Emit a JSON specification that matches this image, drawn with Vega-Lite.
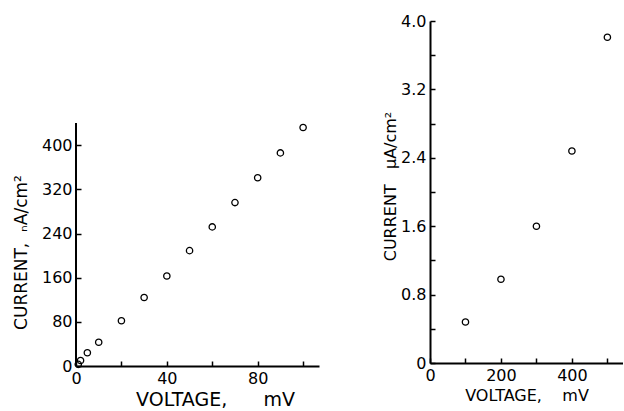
{
  "$schema": "https://vega.github.io/schema/vega-lite/v6.json",
  "background": "white",
  "padding": {"left": 12, "top": 13, "right": 0, "bottom": 0},
  "spacing": 63,
  "config": {
    "view": {"stroke": null},
    "font": "DejaVu Sans",
    "axis": {
      "grid": false,
      "domainColor": "black",
      "domainWidth": 2,
      "tickColor": "black",
      "tickWidth": 1.5,
      "tickSize": -5,
      "labelPadding": 9,
      "labelFlush": false,
      "labelOverlap": false,
      "labelColor": "black",
      "labelFontSize": 16,
      "labelFont": "DejaVu Sans",
      "titleFont": "DejaVu Sans",
      "titleFontSize": 16,
      "titleFontWeight": "normal",
      "titleColor": "black"
    }
  },
  "datasets": {
    "left": [
      {"voltage": 1, "current": 3},
      {"voltage": 2, "current": 10},
      {"voltage": 5, "current": 24},
      {"voltage": 10, "current": 43},
      {"voltage": 20, "current": 82},
      {"voltage": 30, "current": 124},
      {"voltage": 40, "current": 163},
      {"voltage": 50, "current": 209},
      {"voltage": 60, "current": 252},
      {"voltage": 70, "current": 296},
      {"voltage": 80, "current": 341},
      {"voltage": 90, "current": 386},
      {"voltage": 100, "current": 432}
    ],
    "right": [
      {"voltage": 100, "current": 0.48},
      {"voltage": 200, "current": 0.98},
      {"voltage": 300, "current": 1.6},
      {"voltage": 400, "current": 2.48},
      {"voltage": 500, "current": 3.81}
    ]
  },
  "hconcat": [
    {
      "width": 243,
      "height": 345,
      "layer": [
        {
          "data": {"name": "left"},
          "mark": {"type": "rule", "color": "black", "strokeWidth": 2},
          "encoding": {
            "x": {"datum": 0, "type": "quantitative"},
            "y": {"datum": 0, "type": "quantitative"},
            "y2": {"datum": 440}
          }
        },
        {
          "data": {"name": "left"},
          "mark": {"type": "point", "shape": "circle", "filled": false, "color": "black", "size": 40, "strokeWidth": 1.3, "opacity": 1},
          "encoding": {
            "x": {
              "field": "voltage", "type": "quantitative",
              "scale": {"domain": [0, 107], "nice": false},
              "axis": {
                "title": "VOLTAGE,\u00a0\u00a0\u00a0\u00a0\u00a0\u00a0mV",
                "titleFontSize": 19,
                "values": [0, 20, 40, 60, 80, 100],
                "labelExpr": "datum.value % 40 === 0 ? datum.label : ''",
                "titleX": 139
              }
            },
            "y": {
              "field": "current", "type": "quantitative",
              "scale": {"domain": [0, 625], "nice": false},
              "axis": {
                "title": "CURRENT,\u00a0\u00a0ₙA/cm²",
                "titleFontSize": 17,
                "domain": false,
                "values": [0, 80, 160, 240, 320, 400],
                "titleX": -46,
                "titleY": 231
              }
            }
          }
        }
      ]
    },
    {
      "width": 193,
      "height": 342,
      "data": {"name": "right"},
      "mark": {"type": "point", "shape": "circle", "filled": false, "color": "black", "size": 40, "strokeWidth": 1.3, "opacity": 1},
      "encoding": {
        "x": {
          "field": "voltage", "type": "quantitative",
          "scale": {"domain": [0, 544], "nice": false},
          "axis": {
            "title": "VOLTAGE,\u00a0\u00a0\u00a0\u00a0mV",
            "values": [0, 100, 200, 300, 400, 500],
            "labelExpr": "datum.value % 200 === 0 ? datum.label : ''"
          }
        },
        "y": {
          "field": "current", "type": "quantitative",
          "scale": {"domain": [0, 4], "nice": false},
          "axis": {
            "title": "CURRENT\u00a0\u00a0\u00a0µA/cm²",
            "titleX": -32,
            "titleY": 165,
            "values": [0, 0.4, 0.8, 1.2, 1.6, 2.0, 2.4, 2.8, 3.2, 3.6, 4.0],
            "labelExpr": "round(datum.value * 10) % 8 === 0 ? (datum.value === 0 ? '0' : format(datum.value, '.1f')) : ''"
          }
        }
      }
    }
  ]
}
